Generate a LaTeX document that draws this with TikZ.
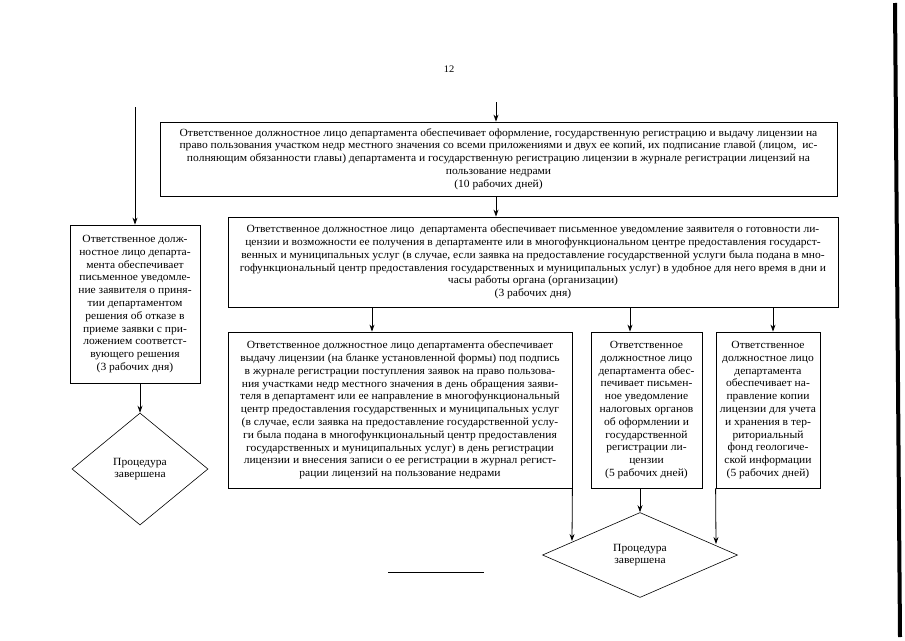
\documentclass[tikz,border=0pt]{standalone}
\usepackage{fontspec}
\setmainfont{Liberation Serif}[FakeStretch=1.05]
\usepackage{tikz}
\usetikzlibrary{shapes.geometric,arrows.meta}
\newcommand{\BoxFont}{\fontsize{11}{12.8}\selectfont}

\begin{document}
\begin{tikzpicture}[x=1pt,y=-1pt,>={Stealth[length=7pt,width=5pt]},
    box/.style={draw,line width=0.8pt,align=center,inner sep=1pt,font=\BoxFont},
    proc/.style={draw,diamond,line width=0.6pt,align=center,inner sep=0pt,font=\BoxFont},
    link/.style={->,line width=0.8pt}]
  \useasboundingbox (0,0) rectangle (905,640);
  % page number
  \node[font=\fontsize{10}{12}\selectfont] (pnum) at (449,69) {12};
  % issue of the licence
  \node[box,minimum width=677,minimum height=74] (issue) at (498.5,159) {Ответственное должностное лицо департамента обеспечивает оформление, государственную регистрацию и выдачу лицензии на\\
    право пользования участком недр местного значения со всеми приложениями и двух ее копий, их подписание главой (лицом,~~ис-\\
    полняющим обязанности главы) департамента и государственную регистрацию лицензии в журнале регистрации лицензий на\\
    пользование недрами\\
    (10 рабочих дней)};
  \node[box,minimum width=610,minimum height=90] (notify) at (533,262) {Ответственное должностное лицо~~департамента обеспечивает письменное уведомление заявителя о готовности ли-\\
    цензии и возможности ее получения в департаменте или в многофункциональном центре предоставления государст-\\
    венных и муниципальных услуг (в случае, если заявка на предоставление государственной услуги была подана в мно-\\
    гофункциональный центр предоставления государственных и муниципальных услуг) в удобное для него время в дни и\\
    часы работы органа (организации)\\
    (3 рабочих дня)};
  % refusal branch
  \node[box,minimum width=130,minimum height=158] (refuse) at (135,304) {Ответственное долж-\\ностное лицо департа-\\мента обеспечивает\\письменное уведомле-\\ние заявителя о приня-\\тии департаментом\\решения об отказе в\\приеме заявки с при-\\ложением соответст-\\вующего решения\\(3 рабочих дня)};
  \node[proc,minimum width=136,minimum height=112] (doneL) at (140,469) {Процедура\\завершена};
  % three final steps
  \node[box,minimum width=344,minimum height=156] (handout) at (400,410) {Ответственное должностное лицо департамента обеспечивает\\
    выдачу лицензии (на бланке установленной формы) под подпись\\
    в журнале регистрации поступления заявок на право пользова-\\
    ния участками недр местного значения в день обращения заяви-\\
    теля в департамент или ее направление в многофункциональный\\
    центр предоставления государственных и муниципальных услуг\\
    (в случае, если заявка на предоставление государственной услу-\\
    ги была подана в многофункциональный центр предоставления\\
    государственных и муниципальных услуг) в день регистрации\\
    лицензии и внесения записи о ее регистрации в журнал регист-\\
    рации лицензий на пользование недрами};
  \node[box,minimum width=111,minimum height=156] (taxes) at (646.5,410) {Ответственное\\должностное лицо\\департамента обес-\\печивает письмен-\\ное уведомление\\налоговых органов\\об оформлении и\\государственной\\регистрации ли-\\цензии\\(5 рабочих дней)};
  \node[box,minimum width=104,minimum height=156] (fund) at (768,410) {Ответственное\\должностное лицо\\департамента\\обеспечивает на-\\правление копии\\лицензии для учета\\и хранения в тер-\\риториальный\\фонд геологиче-\\ской информации\\(5 рабочих дней)};
  \node[proc,aspect=2,minimum width=195,minimum height=85] (doneB) at (640,555) {Процедура\\завершена};
  % arrows
  \coordinate (inTop) at (496,102);
  \coordinate (inLeft) at (135,107);
  \coordinate (colA) at (372,0);
  \coordinate (colB) at (630,0);
  \coordinate (colC) at (773,0);
  \coordinate (hitL) at (572,541);
  \coordinate (hitR) at (716,544);
  \draw[link] (inTop) -- (inTop |- issue.north);
  \draw[link] (issue.south -| inTop) -- (notify.north -| inTop);
  \draw[link] (inLeft) -- (refuse.north);
  \draw[link] (refuse.south -| doneL.north) -- (doneL.north);
  \draw[link] (notify.south -| colA) -- (handout.north -| colA);
  \draw[link] (notify.south -| colB) -- (taxes.north -| colB);
  \draw[link] (notify.south -| colC) -- (fund.north -| colC);
  \draw[link] (taxes.south -| doneB.north) -- (doneB.north);
  \draw[link] (handout.south east) -- (hitL);
  \draw[link] (fund.south west) -- (hitR);
  % footnote rule and the dark scan edge
  \coordinate (ruleA) at (388,572);
  \coordinate (ruleB) at (484,572);
  \draw[line width=0.8pt] (ruleA) -- (ruleB);
  \coordinate (edgeT) at (895,3);
  \coordinate (edgeB) at (900,637);
  \draw[line width=4pt] (edgeT) -- (edgeB);
\end{tikzpicture}
\end{document}
